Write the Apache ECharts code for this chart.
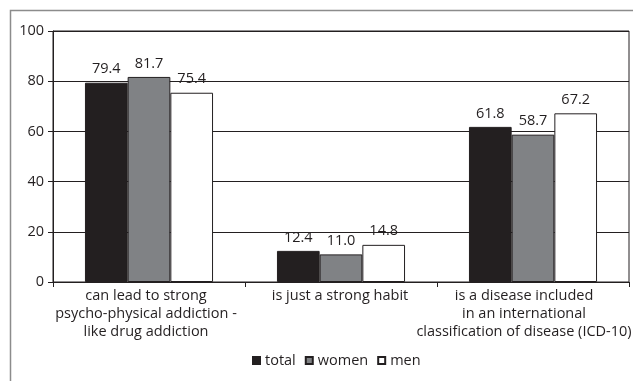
<!DOCTYPE html>
<html>
<head>
<meta charset="utf-8">
<script src="https://cdn.jsdelivr.net/npm/echarts@6/dist/echarts.min.js"></script>
<style>
  html, body { margin: 0; padding: 0; background: #fff; }
  #chart { width: 633px; height: 381px; }
</style>
</head>
<body>
<div id="chart"></div>
<script>
// Survey answers: what smoking is, by respondent group (%)
const categories = [
  'can lead to strong\npsycho-physical addiction -\nlike drug addiction',
  'is just a strong habit',
  'is a disease included\nin an international\nclassification of disease (ICD-10)'
];
const totalValues = [79.4, 12.4, 61.8];
const womenValues = [81.7, 11.0, 58.7];
const menValues = [75.4, 14.8, 67.2];
const seriesNames = ['total', 'women', 'men'];
const yTicks = [0, 20, 40, 60, 80, 100];

const FONT = 'Open Sans';
const FONT_SIZE = 14.5;
const INK = '#231f20';

// right padding per category label: nudges each label block left so the long
// ICD-10 line stays inside the canvas
const labelNudge = [6, 2, 18];

const chart = echarts.init(document.getElementById('chart'), null, { renderer: 'canvas' });

function barSeries(name, data, fill) {
  return {
    name: name,
    type: 'bar',
    data: data,
    barGap: '0%',
    barCategoryGap: '33.3%',
    itemStyle: { color: fill, borderColor: INK, borderWidth: 1 },
    label: {
      show: true,
      position: 'top',
      distance: 6,
      color: INK,
      fontFamily: FONT,
      fontSize: FONT_SIZE,
      formatter: p => p.value.toFixed(1)
    },
    emphasis: { disabled: true }
  };
}

const labelRich = {};
labelNudge.forEach((pad, i) => {
  labelRich['c' + i] = {
    fontFamily: FONT, fontSize: FONT_SIZE, color: INK, lineHeight: 18,
    padding: [0, pad, 0, 0]
  };
});

chart.setOption({
  animation: false,
  backgroundColor: '#ffffff',
  textStyle: { fontFamily: FONT },
  graphic: [{
    type: 'rect',
    shape: { x: 10.5, y: 10.5, width: 700, height: 500 },
    style: { fill: null, stroke: '#8c8c8c', lineWidth: 1.5 },
    silent: true,
    z: 0
  }],
  legend: {
    data: seriesNames,
    top: 348,
    left: 247,
    icon: 'rect',
    itemWidth: 7,
    itemHeight: 7,
    itemGap: 9,
    textStyle: { fontFamily: FONT, fontSize: FONT_SIZE, color: INK }
  },
  grid: {
    left: 53, top: 31, right: 4, bottom: 99,
    outerBoundsMode: 'none',
    containLabel: false,
    show: true, borderColor: INK, borderWidth: 1, backgroundColor: 'transparent'
  },
  xAxis: {
    type: 'category',
    data: categories,
    axisLine: { show: true, lineStyle: { color: INK, width: 1 } },
    axisTick: { show: true, length: 5, lineStyle: { color: INK } },
    axisLabel: {
      color: INK, fontFamily: FONT, fontSize: FONT_SIZE, lineHeight: 18, margin: 5, interval: 0,
      formatter: (value, index) =>
        value.split('\n').map(line => '{c' + index + '|' + line + '}').join('\n'),
      rich: labelRich
    }
  },
  yAxis: {
    type: 'value',
    min: yTicks[0],
    max: yTicks[yTicks.length - 1],
    interval: 20,
    axisLine: { show: true, lineStyle: { color: INK, width: 1 } },
    axisTick: { show: true, length: 5, lineStyle: { color: INK } },
    axisLabel: { color: INK, fontFamily: FONT, fontSize: FONT_SIZE, margin: 9 },
    splitLine: { show: true, lineStyle: { color: INK, width: 1 } }
  },
  series: [
    barSeries(seriesNames[0], totalValues, '#231f20'),
    barSeries(seriesNames[1], womenValues, '#808285'),
    barSeries(seriesNames[2], menValues, '#ffffff')
  ]
});
</script>
</body>
</html>
